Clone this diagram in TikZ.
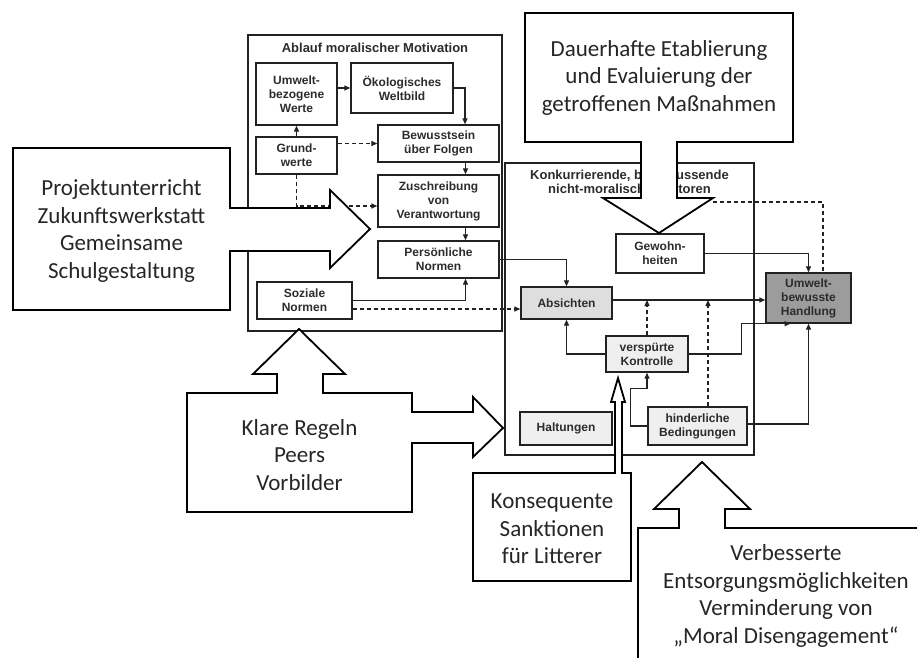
\documentclass[tikz,border=0pt]{standalone}
\usepackage{fontspec}
\setmainfont{Liberation Sans}
\newfontfamily\cali{Carlito}
\usetikzlibrary{arrows.meta,calc}
\definecolor{txt}{HTML}{2C2C2C}
\definecolor{ln}{HTML}{222222}
\definecolor{gdark}{HTML}{9C9C9C}
\definecolor{glight}{HTML}{DEDEDE}
\definecolor{gpale}{HTML}{EFEFEF}
\begin{document}
\begin{tikzpicture}[x=1pt,y=-1pt,
  sbox/.style={draw=ln, line width=1.4pt, fill=white, text=txt,
    font=\fontsize{12}{14}\selectfont\bfseries, align=center, inner sep=1pt},
  ttl/.style={text=txt, font=\fontsize{13}{14}\selectfont\bfseries, align=center, inner sep=0pt},
  panel/.style={draw=ln, line width=1.4pt},
  conn/.style={draw=ln, line width=1.3pt, -{Triangle[length=6pt,width=5pt]}},
  dconn/.style={conn, dash pattern=on 4pt off 3pt},
  dline/.style={draw=ln, line width=1.3pt, dash pattern=on 4pt off 3pt},
  bigarrow/.style={draw=black, line width=1.8pt, fill=white, line join=miter},
  bigtext/.style={font=\cali\fontsize{23}{27.5}\selectfont, text=black!85, align=center, inner sep=0pt}
]
\clip (0,0) rectangle (917,657);
\fill[white] (0,0) rectangle (917,657);

% panels
\draw[panel] (248,35) rectangle (502,331);
\draw[panel] (505,163) rectangle (754,455);
\node[ttl] (t1) at (375,48) {Ablauf moralischer Motivation};
\node[ttl] (t2) at (629.5,182) {Konkurrierende, beeinflussende\\nicht-moralische Faktoren};

% left panel nodes
\node[sbox, minimum width=81pt, minimum height=62pt] (umw) at (296.5,94) {Umwelt-\\bezogene\\Werte};
\node[sbox, minimum width=102pt, minimum height=50pt] (oek) at (402,88) {Ökologisches\\Weltbild};
\node[sbox, minimum width=81pt, minimum height=37pt] (grund) at (296.5,155.5) {Grund-\\werte};
\node[sbox, minimum width=121pt, minimum height=37pt] (bew) at (438.5,143.5) {Bewusstsein\\über Folgen};
\node[sbox, minimum width=121pt, minimum height=52pt] (zus) at (438.5,201) {Zuschreibung\\von\\Verantwortung};
\node[sbox, minimum width=121pt, minimum height=37pt] (pers) at (438.5,259.5) {Persönliche\\Normen};
\node[sbox, minimum width=95pt, minimum height=37pt] (soz) at (304.5,300.5) {Soziale\\Normen};

% right panel nodes
\node[sbox, minimum width=88pt, minimum height=39pt] (gew) at (660,253.5) {Gewohn-\\heiten};
\node[sbox, fill=gdark, minimum width=85pt, minimum height=50pt] (hand) at (808.5,298) {Umwelt-\\bewusste\\Handlung};
\node[sbox, fill=glight, minimum width=91pt, minimum height=32pt] (abs) at (566.5,303) {Absichten};
\node[sbox, fill=gpale, minimum width=82pt, minimum height=36pt] (kon) at (647,354) {verspürte\\Kontrolle};
\node[sbox, fill=gpale, minimum width=92pt, minimum height=33pt] (halt) at (566,428.5) {Haltungen};
\node[sbox, fill=gpale, minimum width=99pt, minimum height=38pt] (hind) at (697.5,426) {hinderliche\\Bedingungen};

% left panel connectors
\draw[conn] (umw.east |- oek) -- (oek.west);
\draw[conn] (oek.east) -| ([xshift=26.5pt]bew.north);
\draw[conn] (grund.north) -- (umw.south);
\draw[dconn] (grund.east |- bew.west) -- (bew.west);
\draw[dconn] (grund.south) |- ([yshift=-5pt]zus.west);
\draw[conn] ([xshift=27pt]bew.south) -- ([xshift=27pt]zus.north);
\draw[conn] ([xshift=27pt]zus.south) -- ([xshift=27pt]pers.north);
\draw[conn] (soz.east) -| ([xshift=27pt]pers.south);
\coordinate (s1) at ([yshift=-8.5pt]soz.east);
\draw[dconn] (s1) -- (s1 -| abs.west);
\draw[conn] (pers.east) -| (abs.north);

% right panel connectors
\draw[conn] (gew.east) -| (hand.north);
\coordinate (dstart) at (713,202);
\draw[dline] (dstart) -| ([xshift=14.5pt]hand.north);
\coordinate (a1) at ([yshift=3pt]abs.east);
\draw[conn] (a1) -- (a1 -| hand.west);
\draw[dconn] (kon.north) -- (kon.north |- a1);
\draw[dconn] ([xshift=10.5pt]hind.north) -- ([xshift=10.5pt]hind.north |- a1);
\draw[conn] (kon.west) -| (abs.south);
\draw[conn] (kon.east) -- ++(53,0) |- ([xshift=-18pt]hand.south);
\draw[conn] (hind.west) -- ++(-17,0) |- ($(kon.south)+(0,16)$) -- (kon.south);
\draw[conn] ([yshift=2pt]hind.east) -| (hand.south);

% big block arrows
\draw[bigarrow] (13,148) -- (230,148) -- (230,208) -- (330,208) -- (330,190) -- (370,229)
  -- (330,268) -- (330,251) -- (230,251) -- (230,310) -- (13,310) -- cycle;
\node[bigtext] (m1) at (121.5,231) {Projektunterricht\\Zukunftswerkstatt\\Gemeinsame\\Schulgestaltung};

\draw[bigarrow] (525,13) -- (793,13) -- (793,142) -- (677,142) -- (677,198) -- (713,198)
  -- (659,233) -- (603,198) -- (641,198) -- (641,142) -- (525,142) -- cycle;
\node[bigtext] (m2) at (659,77.5) {Dauerhafte Etablierung\\und Evaluierung der\\getroffenen Maßnahmen};

\draw[bigarrow] (187,393) -- (277,393) -- (277,374) -- (253,374) -- (299,329) -- (345,374)
  -- (323,374) -- (323,393) -- (412,393) -- (412,412) -- (473,412) -- (473,397) -- (503,428)
  -- (473,457) -- (473,443) -- (412,443) -- (412,512) -- (187,512) -- cycle;
\node[bigtext] (m3) at (299.5,455) {Klare Regeln\\Peers\\Vorbilder};

\draw[bigarrow] (473,473) -- (615,473) -- (615,402) -- (611,402) -- (618,378) -- (625,402)
  -- (622,402) -- (622,473) -- (631,473) -- (631,581) -- (473,581) -- cycle;
\node[bigtext] (m4) at (552,529) {Konsequente\\Sanktionen\\für Litterer};

\draw[bigarrow] (638,680) -- (638,528) -- (679,528) -- (679,509) -- (654,509) -- (702,462)
  -- (750,509) -- (725,509) -- (725,528) -- (930,528) -- (930,680) -- cycle;
\node[bigtext] (m5) at (786,596) {Verbesserte\\Entsorgungsmöglichkeiten\\Verminderung von\\„Moral Disengagement“};
\end{tikzpicture}
\end{document}
